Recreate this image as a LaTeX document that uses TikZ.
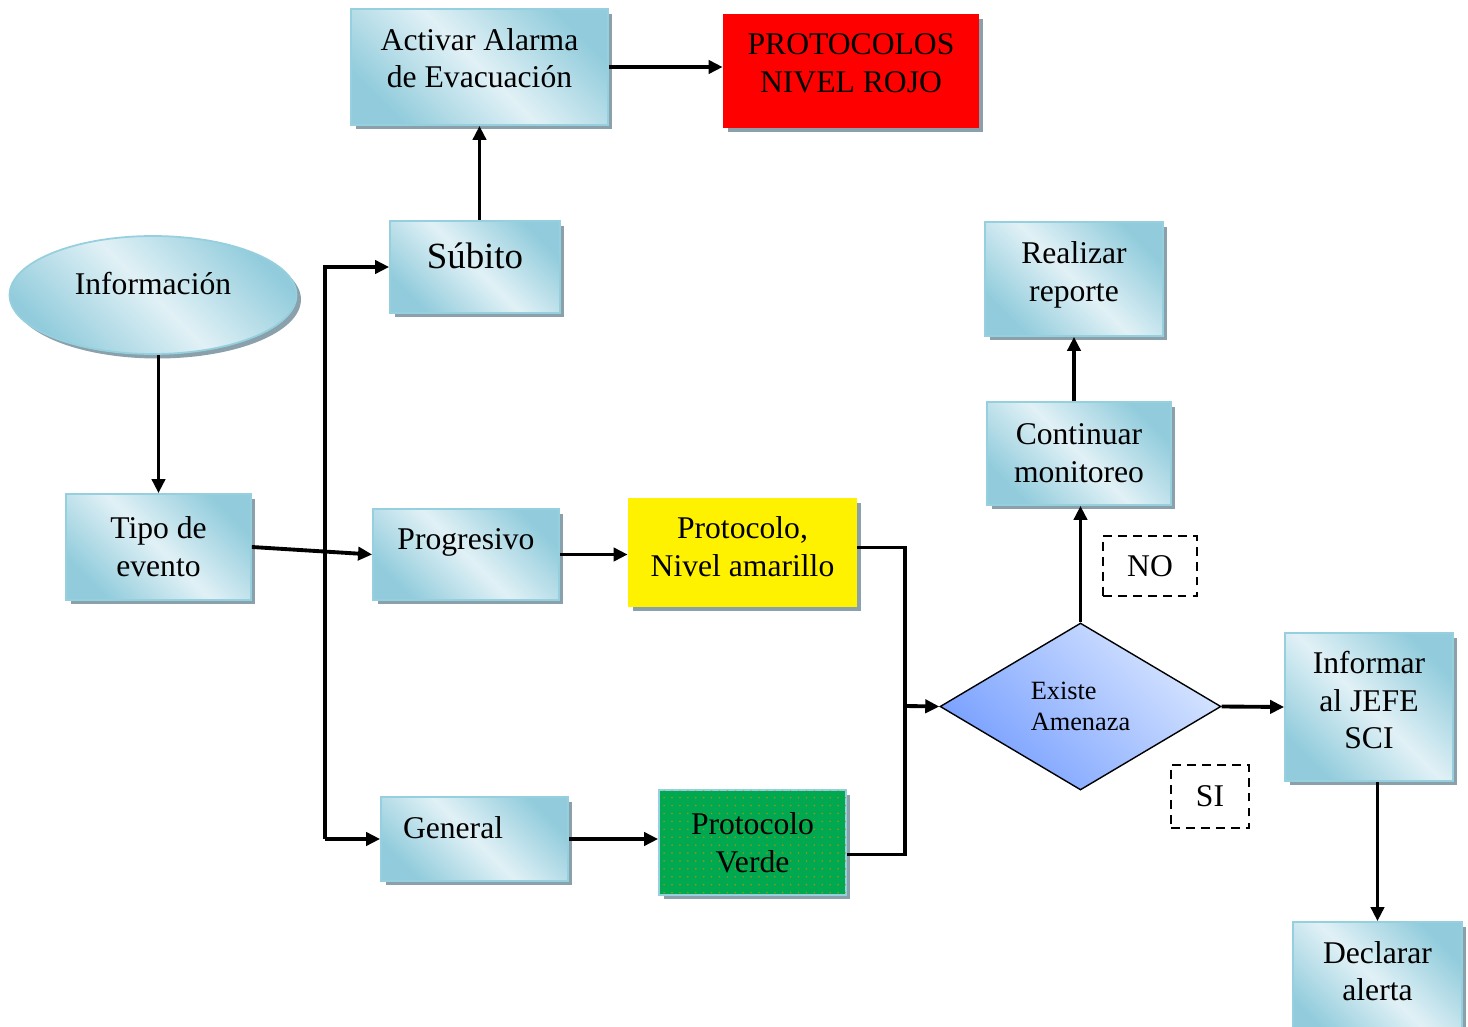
\documentclass[tikz,border=0pt]{standalone}
\usepackage{fontspec}
\setmainfont{Liberation Serif}
\usetikzlibrary{shapes.geometric,shadows,arrows.meta,patterns.meta}
\definecolor{celesteOsc}{RGB}{146,204,220}
\definecolor{celesteCla}{RGB}{225,241,246}
\definecolor{borde}{RGB}{150,208,222}
\definecolor{sombra}{RGB}{138,160,170}
\definecolor{rombOsc}{RGB}{118,158,255}
\definecolor{rombCla}{RGB}{216,230,255}
\definecolor{verdeP}{RGB}{0,168,80}
\definecolor{puntos}{RGB}{175,140,20}
\begin{document}
\begin{tikzpicture}[x=0.02cm,y=-0.02cm,
		caja/.style={rectangle,draw=borde,line width=1pt,top color=celesteOsc,bottom color=celesteOsc,middle color=celesteCla,shading angle=-45,drop shadow={shadow xshift=0.09cm,shadow yshift=-0.09cm,fill=sombra,opacity=1},align=center,inner sep=2pt,font=\fontsize{18}{21.5}\selectfont},
		elipse/.style={caja,ellipse},
		plano/.style={rectangle,drop shadow={shadow xshift=0.09cm,shadow yshift=-0.09cm,fill=sombra,opacity=1},align=center,inner sep=2pt,font=\fontsize{18}{21.5}\selectfont},
		rombo/.style={diamond,aspect=1.68,draw=black,line width=0.8pt,top color=rombCla,bottom color=rombOsc,shading angle=-45,inner sep=0pt,align=left,font=\fontsize{15}{18}\selectfont},
		etiqueta/.style={rectangle,draw=black,line width=1.2pt,dash pattern=on 5pt off 3.5pt,font=\fontsize{18}{21.5}\selectfont},
		linea/.style={line width=2.2pt},
		flecha/.style={linea,-{Triangle[length=8pt,width=7.5pt]}}]
		\useasboundingbox (0,0) rectangle (1468,1027);

		\node[elipse,minimum width=5.74cm,minimum height=2.36cm,text depth=0.46cm] (info) at (153,295) {Información};
		\node[caja,minimum width=5.14cm,minimum height=2.32cm,text depth=0.36cm] (alarma) at (479.5,67) {Activar Alarma\\de Evacuación};
		\node[plano,fill=red,minimum width=5.12cm,minimum height=2.28cm,text depth=0.32cm] (rojo) at (851,71) {PROTOCOLOS\\NIVEL ROJO};
		\node[caja,minimum width=3.4cm,minimum height=1.84cm,text depth=0.44cm,font=\fontsize{21}{25}\selectfont] (subito) at (475,267) {Súbito};
		\node[caja,minimum width=3.56cm,minimum height=2.28cm,text depth=0.3cm] (reporte) at (1074,279) {Realizar\\reporte};
		\node[caja,minimum width=3.68cm,minimum height=2.06cm] (monitoreo) at (1079,453.5) {Continuar\\monitoreo};
		\node[caja,minimum width=3.7cm,minimum height=2.12cm] (tipo) at (158.5,547) {Tipo de\\evento};
		\node[caja,minimum width=3.72cm,minimum height=1.82cm,text depth=0.63cm] (progresivo) at (466,554.5) {Progresivo};
		\node[plano,fill=yellow,minimum width=4.58cm,minimum height=2.18cm,text depth=0.24cm] (amarillo) at (742.5,552.5) {Protocolo,\\Nivel amarillo};
		\node[etiqueta,minimum width=1.88cm,minimum height=1.2cm] (no) at (1150,566) {NO};
		\node[rombo,minimum width=5.62cm,minimum height=3.34cm] (cond) at (1080.5,706.5) {Existe\\Amenaza};
		\node[caja,minimum width=3.36cm,minimum height=2.96cm,text depth=0.28cm] (informar) at (1369,707) {Informar\\al JEFE\\SCI};
		\node[etiqueta,minimum width=1.56cm,minimum height=1.26cm] (si) at (1210,796.5) {SI};
		\node[caja,minimum width=3.74cm,minimum height=1.68cm,text depth=0.46cm,text width=2.86cm,align=left] (general) at (474.5,839) {General};
		\node[plano,fill=verdeP,draw=borde,line width=1pt,postaction={pattern={Dots[distance=4.5pt,radius=0.5pt]},pattern color=puntos},minimum width=3.74cm,minimum height=2.1cm] (verde) at (752.5,842.5) {Protocolo\\Verde};
		\node[caja,minimum width=3.38cm,minimum height=2.4cm,text depth=0.44cm] (declarar) at (1377.5,982) {Declarar\\alerta};

		\coordinate (tronco) at (325,550);
		\coordinate (bus) at (905,706);

		\draw[flecha] (info.south -| tipo) -- (tipo.north);
		\draw[flecha] (tipo.east) -- (progresivo.west);
		\draw[flecha] (tronco |- general) -- (tronco |- subito) -- (subito.west);
		\draw[flecha] (tronco |- general) -- (general.west);
		\draw[flecha] (subito.north -| alarma) -- (alarma.south);
		\draw[flecha] (alarma.east) -- (alarma.east -| rojo.west);
		\draw[flecha] (progresivo.east) -- (progresivo.east -| amarillo.west);
		\draw[flecha] (general.east) -- (general.east -| verde.west);
		\draw[linea] ([yshift=0.1cm]amarillo.east) -| (bus);
		\draw[linea] ([yshift=-0.24cm]verde.east) -| (bus);
		\draw[flecha] (bus) -- (cond.west);
		\draw[flecha] (cond.north) -- (cond.north |- monitoreo.south);
		\draw[flecha] (monitoreo.north -| reporte) -- (reporte.south);
		\draw[flecha] (cond.east) -- (informar.west);
		\draw[flecha] (informar.south -| declarar) -- (declarar.north);
\end{tikzpicture}
\end{document}
